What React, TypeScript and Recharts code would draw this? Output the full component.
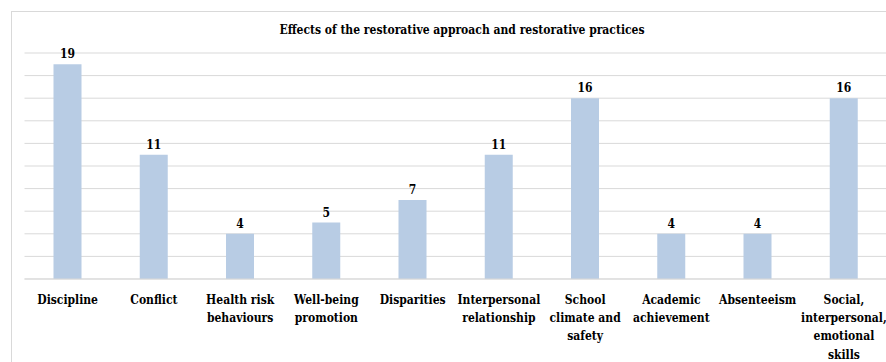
import React from "react";
import { BarChart, Bar, XAxis, YAxis, CartesianGrid, LabelList } from "recharts";

const categories: string[][] = [
  ["Discipline"],
  ["Conflict"],
  ["Health risk", "behaviours"],
  ["Well-being", "promotion"],
  ["Disparities"],
  ["Interpersonal", "relationship"],
  ["School", "climate and", "safety"],
  ["Academic", "achievement"],
  ["Absenteeism"],
  ["Social,", "interpersonal,", "emotional", "skills"],
];
const counts: number[] = [19, 11, 4, 5, 7, 11, 16, 4, 4, 16];
const yTicks: number[] = [0, 2, 4, 6, 8, 10, 12, 14, 16, 18, 20];
const title = "Effects of the restorative approach and restorative practices";

const data = categories.map((lines, i) => ({ name: lines.join(" "), lines, value: counts[i] }));

const FONT = "'DejaVu Serif Condensed', 'DejaVu Serif', serif";

const Tick = (props: any) => {
  const { x, y, payload } = props;
  const lines = categories[payload.index] || [payload.value];
  return (
    <g transform={`translate(${x},${y})`}>
      {lines.map((l: string, i: number) => (
        <text
          key={i}
          x={0}
          y={17 + i * 18.2}
          textAnchor="middle"
          fontFamily={FONT}
          fontWeight="bold"
          fontSize={12}
          fill="#000"
        >
          {l}
        </text>
      ))}
    </g>
  );
};

export default function App() {
  return (
    <div style={{ position: "absolute", left: 0, top: 0, width: 886, height: 362, overflow: "hidden", background: "#fff" }}>
      <div
        style={{
          position: "absolute",
          left: 11,
          top: 11,
          width: 900,
          height: 400,
          border: "1px solid #D9D9D9",
          boxSizing: "border-box",
        }}
      />
      <div
        style={{
          position: "absolute",
          left: 0,
          width: 924,
          top: 21,
          textAlign: "center",
          fontFamily: FONT,
          fontWeight: "bold",
          fontSize: 12,
          color: "#000",
          lineHeight: "18px",
        }}
      >
        {title}
      </div>
      <div style={{ position: "absolute", left: 0, top: 0 }}>
        <BarChart
          width={900}
          height={362}
          data={data}
          margin={{ top: 53, right: 13, bottom: 0, left: 24.5 }}
        >
          <CartesianGrid vertical={false} stroke="#D9D9D9" strokeWidth={1} />
          <YAxis hide domain={[0, 20]} ticks={yTicks} interval={0} />
          <XAxis
            dataKey="name"
            axisLine={{ stroke: "#D9D9D9" }}
            tickLine={false}
            interval={0}
            tick={<Tick />}
            height={83}
          />
          <Bar dataKey="value" fill="#B8CCE4" barSize={28} isAnimationActive={false}>
            <LabelList
              dataKey="value"
              position="top"
              offset={6}
              fontFamily={FONT}
              fontWeight="bold"
              fontSize={12}
              fill="#000"
            />
          </Bar>
        </BarChart>
      </div>
    </div>
  );
}
